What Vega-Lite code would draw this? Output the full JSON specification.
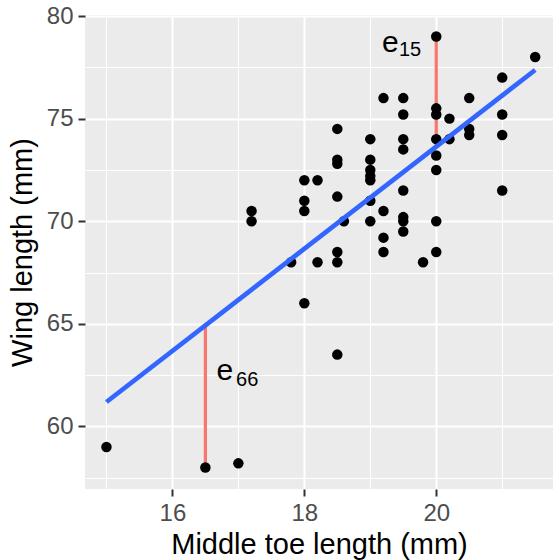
{
  "$schema": "https://vega.github.io/schema/vega-lite/v6.json",
  "width": 468,
  "height": 474,
  "autosize": {"type": "none"},
  "padding": {"left": 85, "top": 15, "right": 0, "bottom": 71},
  "background": "white",
  "config": {
    "view": {"fill": "#EBEBEB", "stroke": null},
    "axis": {
      "domain": false,
      "labelFont": "Liberation Sans",
      "labelFontSize": 24,
      "labelColor": "#4D4D4D",
      "tickColor": "#333333",
      "tickWidth": 2,
      "tickSize": 7,
      "labelPadding": 5,
      "gridColor": "white",
      "titleFont": "Liberation Sans",
      "titleFontSize": 29,
      "titleFontWeight": "normal",
      "titleColor": "black"
    }
  },
  "datasets": {
    "birds": [
      {"x": 15, "y": 59}, {"x": 16.5, "y": 58}, {"x": 17, "y": 58.2},
      {"x": 17.2, "y": 70.5}, {"x": 17.2, "y": 70}, {"x": 17.8, "y": 68},
      {"x": 18, "y": 66}, {"x": 18, "y": 72}, {"x": 18, "y": 71}, {"x": 18, "y": 70.5},
      {"x": 18.2, "y": 72}, {"x": 18.2, "y": 68},
      {"x": 18.5, "y": 74.5}, {"x": 18.5, "y": 73}, {"x": 18.5, "y": 72.8}, {"x": 18.5, "y": 71.2},
      {"x": 18.5, "y": 68.5}, {"x": 18.5, "y": 68}, {"x": 18.5, "y": 63.5}, {"x": 18.6, "y": 70},
      {"x": 19, "y": 74}, {"x": 19, "y": 73}, {"x": 19, "y": 72.5}, {"x": 19, "y": 72.2},
      {"x": 19, "y": 72}, {"x": 19, "y": 71}, {"x": 19, "y": 70},
      {"x": 19.2, "y": 76}, {"x": 19.2, "y": 70.5}, {"x": 19.2, "y": 69.2}, {"x": 19.2, "y": 68.5},
      {"x": 19.5, "y": 76}, {"x": 19.5, "y": 75.2}, {"x": 19.5, "y": 74}, {"x": 19.5, "y": 73.5},
      {"x": 19.5, "y": 71.5}, {"x": 19.5, "y": 70.2}, {"x": 19.5, "y": 70}, {"x": 19.5, "y": 69.5},
      {"x": 19.8, "y": 68},
      {"x": 20, "y": 79}, {"x": 20, "y": 75.5}, {"x": 20, "y": 75.2}, {"x": 20, "y": 74},
      {"x": 20, "y": 73.2}, {"x": 20, "y": 72.5}, {"x": 20, "y": 70}, {"x": 20, "y": 68.5},
      {"x": 20.2, "y": 75}, {"x": 20.2, "y": 74},
      {"x": 20.5, "y": 76}, {"x": 20.5, "y": 74.5}, {"x": 20.5, "y": 74.2},
      {"x": 21, "y": 77}, {"x": 21, "y": 75.2}, {"x": 21, "y": 74.2}, {"x": 21, "y": 71.5},
      {"x": 21.5, "y": 78}
    ],
    "fit": [{"x": 15, "y": 61.19}, {"x": 21.5, "y": 77.37}],
    "resid": [{"x": 16.5, "y": 58, "y2": 64.92}, {"x": 20, "y": 79, "y2": 73.64}],
    "lab": [{"x": 16.67, "y": 62.24, "t": "e"}, {"x": 19.176, "y": 78.26, "t": "e"}],
    "sub": [{"x": 16.965, "y": 61.95, "t": "66"}, {"x": 19.435, "y": 78.06, "t": "15"}]
  },
  "encoding": {
    "x": {
      "field": "x", "type": "quantitative",
      "scale": {"domain": [14.675, 21.77], "nice": false, "zero": false},
      "axis": {
        "title": "Middle toe length (mm)",
        "values": [15, 16, 17, 18, 19, 20, 21],
        "labelExpr": "datum.value % 2 === 0 ? datum.label : ''",
        "tickOpacity": {"condition": {"test": "datum.value % 2 === 0", "value": 1}, "value": 0},
        "gridWidth": {"condition": {"test": "datum.value % 2 === 0", "value": 2.1}, "value": 1},
        "titlePadding": 5
      }
    },
    "y": {
      "field": "y", "type": "quantitative",
      "scale": {"domain": [56.95, 80.05], "nice": false, "zero": false},
      "axis": {
        "title": "Wing length (mm)",
        "values": [57.5, 60, 62.5, 65, 67.5, 70, 72.5, 75, 77.5, 80],
        "labelExpr": "datum.value % 5 === 0 ? datum.label : ''",
        "tickOpacity": {"condition": {"test": "datum.value % 5 === 0", "value": 1}, "value": 0},
        "gridWidth": {"condition": {"test": "datum.value % 5 === 0", "value": 2.1}, "value": 1},
        "titlePadding": 9
      }
    }
  },
  "layer": [
    {
      "data": {"name": "resid"},
      "mark": {"type": "rule", "color": "#F8766D", "strokeWidth": 3.2},
      "encoding": {"y2": {"field": "y2"}}
    },
    {
      "data": {"name": "birds"},
      "mark": {"type": "circle", "color": "black", "opacity": 1, "size": 110}
    },
    {
      "data": {"name": "fit"},
      "mark": {"type": "line", "color": "#3366FF", "strokeWidth": 4.7},
      "encoding": {}
    },
    {
      "data": {"name": "lab"},
      "mark": {"type": "text", "font": "Liberation Sans", "fontSize": 30, "align": "left", "baseline": "alphabetic", "color": "black"},
      "encoding": {"text": {"field": "t"}}
    },
    {
      "data": {"name": "sub"},
      "mark": {"type": "text", "font": "Liberation Sans", "fontSize": 20, "align": "left", "baseline": "alphabetic", "color": "black"},
      "encoding": {"text": {"field": "t"}}
    }
  ]
}
